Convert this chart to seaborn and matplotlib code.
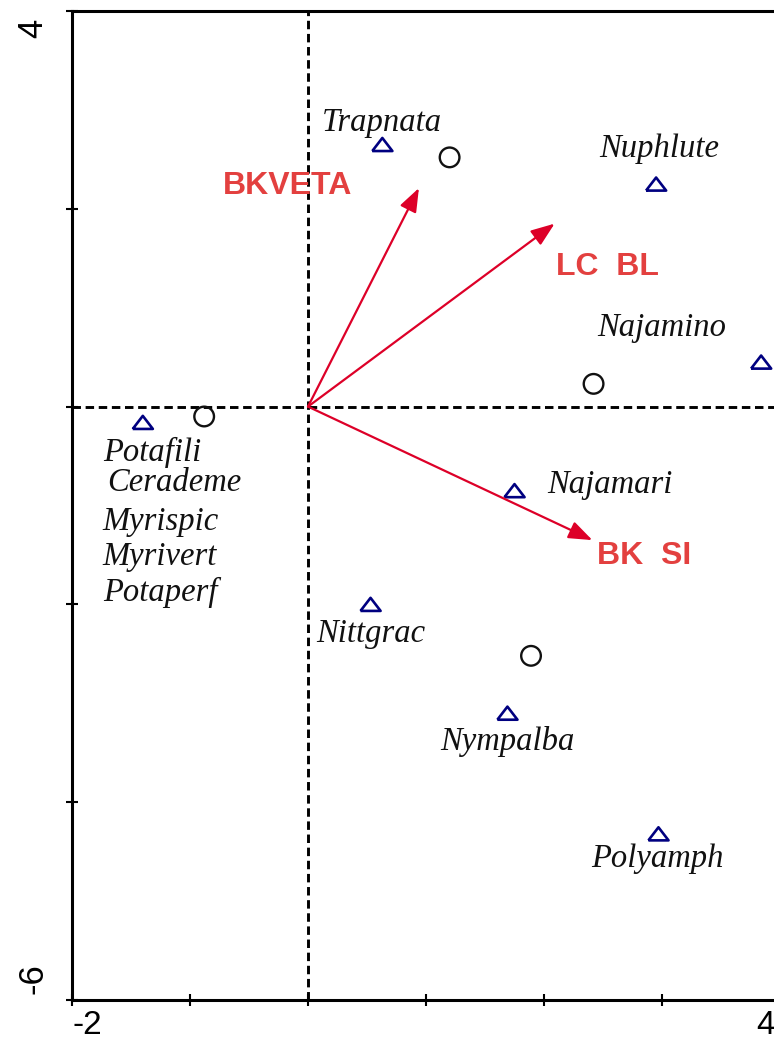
import matplotlib
matplotlib.use("Agg")
import matplotlib.pyplot as plt
import matplotlib.transforms as mtransforms
import seaborn as sns

# species scores (triangles)
species = ['Trapnata', 'Nuphlute', 'Najamino', 'Potafili', 'Najamari',
           'Nittgrac', 'Nympalba', 'Polyamph']
species_x = [0.63, 2.95, 3.84, -1.40, 1.75, 0.53, 1.69, 2.97]
species_y = [2.64, 2.24, 0.44, -0.17, -0.86, -2.01, -3.11, -4.33]
# extra names printed in a stack under the Potafili point
stacked_names = ['Potafili', 'Cerademe', 'Myrispic', 'Myrivert', 'Potaperf']

# sample scores (circles)
site_x = [1.20, 2.42, -0.88, 1.89]
site_y = [2.52, 0.23, -0.10, -2.52]

# environmental arrows
env_names = ['BKVETA', 'LC  BL', 'BK  SI']
env_x = [0.94, 2.09, 2.41]
env_y = [2.21, 1.85, -1.35]

# label offsets in pixels (x right, y up)
species_off = [(0, 23), (3, 36), (-99, 35), None, (95, 7), (0, -28), (0, -27), (-1, -24)]
stack_off = [(-40, -29), (-36, -59), (-40, -98), (-40, -133), (-40, -169)]
env_off = [(-131, 2), (53, -43), (52, -16)]

sns.set_style("white")
plt.rcParams['font.family'] = ['Liberation Sans', 'DejaVu Sans']

fig = plt.figure(figsize=(7.74, 10.46), dpi=100)
W, H = 774, 1046
ax = fig.add_axes([72 / W, (H - 1000) / H, (780 - 72) / W, (1000 - 11) / H])
ax.set_xlim(-2, 4)
ax.set_ylim(-6, 4)

# dashed axes through origin
ax.axhline(0, color='black', lw=2.1, dashes=(2.9, 1.6), zorder=1)
ax.axvline(0, color='black', lw=2.1, dashes=(2.9, 1.6), zorder=1)

tri = [(-1, -0.55), (1, -0.55), (0, 0.75), (-1, -0.55)]
sns.scatterplot(x=species_x, y=species_y, marker=tri, s=210, color='#000080',
                facecolor='none', edgecolor='#000080', linewidth=1.9, ax=ax, zorder=3)
sns.scatterplot(x=site_x, y=site_y, marker='o', s=200, color='#111111',
                facecolor='none', edgecolor='#111111', linewidth=1.7, ax=ax, zorder=3)

serif_it = dict(family=['Liberation Serif', 'DejaVu Serif'], style='italic',
                fontsize=23.5, color='#111111')
for name, x, y, off in zip(species, species_x, species_y, species_off):
    if off is None:
        continue
    ax.annotate(name, (x, y), xytext=off, textcoords='offset pixels',
                ha='center', va='center', **serif_it)
px, py = species_x[3], species_y[3]
for name, off in zip(stacked_names, stack_off):
    ax.annotate(name, (px, py), xytext=off, textcoords='offset pixels',
                ha='left', va='center', **serif_it)

for name, x, y, off in zip(env_names, env_x, env_y, env_off):
    ax.annotate('', xy=(x, y), xytext=(0, 0),
                arrowprops=dict(arrowstyle='-|>,head_length=0.4,head_width=0.15',
                                color='#dd0028', lw=1.6, mutation_scale=36,
                                shrinkA=0, shrinkB=0), zorder=4)
    ax.annotate(name, (x, y), xytext=off, textcoords='offset pixels',
                ha='center', va='center', fontsize=23, fontweight='bold',
                color='#e3403f')

# spines and ticks
for side in ['left', 'top', 'bottom', 'right']:
    ax.spines[side].set_linewidth(2.2)
    ax.spines[side].set_color('black')

ax.set_xticks(range(-2, 5))
ax.set_xticklabels(['-2', '', '', '', '', '', '4'])
ax.set_yticks(range(-6, 5, 2))
ax.set_yticklabels(['-6', '', '', '', '', '4'])
ax.tick_params(axis='x', direction='inout', length=9, width=1.5, pad=3,
               labelsize=24, colors='black', bottom=True)
ax.tick_params(axis='y', direction='inout', length=9, width=1.5, pad=12,
               labelsize=25, colors='black', left=True, labelrotation=90)
xl = ax.get_xticklabels()
xl[0].set_ha('left')
xl[-1].set_ha('right')
xl[-1].set_transform(xl[-1].get_transform() + mtransforms.ScaledTranslation(-5 / 100, 0, fig.dpi_scale_trans))
yl = ax.get_yticklabels()
yl[0].set_va('bottom')
yl[0].set_transform(yl[0].get_transform() + mtransforms.ScaledTranslation(0, 6 / 100, fig.dpi_scale_trans))
yl[-1].set_va('top')
yl[-1].set_transform(yl[-1].get_transform() + mtransforms.ScaledTranslation(0, -8 / 100, fig.dpi_scale_trans))

fig.savefig('out.png', dpi=100)
